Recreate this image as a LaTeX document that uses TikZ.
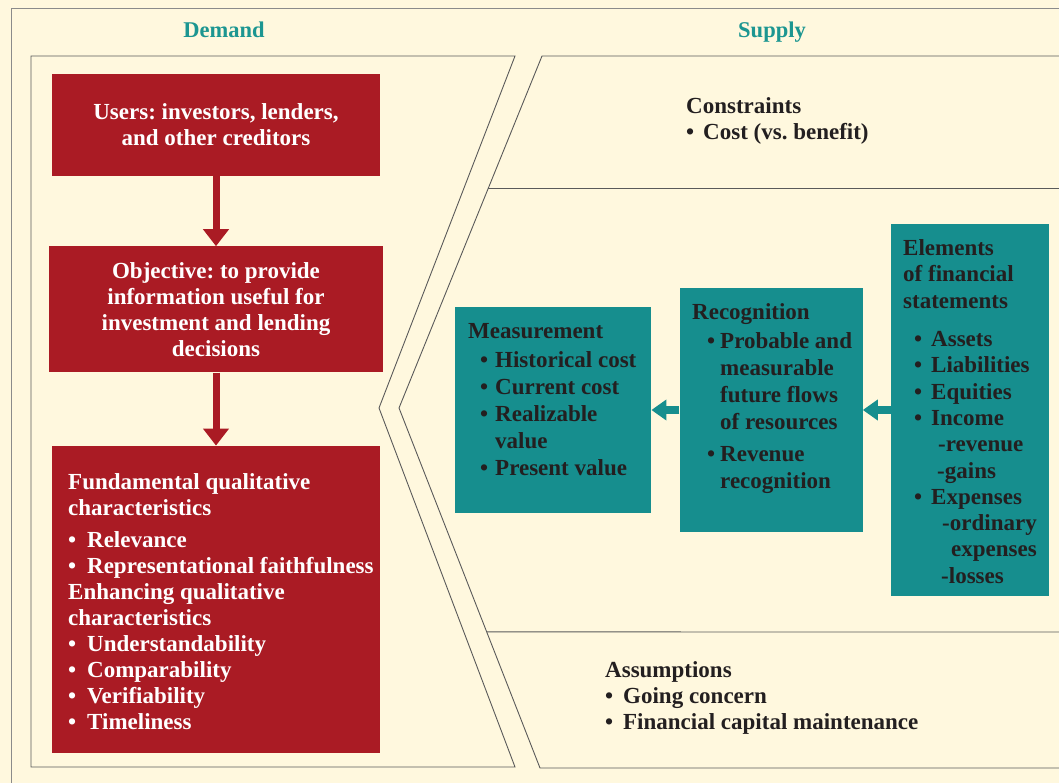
\documentclass[tikz,border=0pt]{standalone}
\usepackage{fontspec}
\setmainfont{Liberation Serif}
\usetikzlibrary{arrows.meta,positioning,calc}
\definecolor{demred}{RGB}{170,27,36}
\definecolor{supteal}{RGB}{22,142,142}
\definecolor{headteal}{RGB}{28,150,145}
\definecolor{paper}{RGB}{255,248,222}
\definecolor{ink}{RGB}{35,31,32}
\definecolor{framegray}{RGB}{90,90,90}
\frenchspacing
\newcommand{\bodyfont}{\fontsize{23}{26}\selectfont\bfseries}
\newcommand{\bul}[1][16pt]{\makebox[#1][l]{\textbullet}}
\tikzset{
  basic/.style    = {font=\bodyfont, inner sep=0pt, align=left},
  redbox/.style   = {basic, fill=demred, text=white, align=center},
  tealbox/.style  = {basic, fill=supteal},
  listtext/.style = {basic, anchor=north west, text=ink},
  panel/.style    = {draw=framegray, line width=0.9pt, fill=paper},
  heading/.style  = {font=\fontsize{22.5}{24}\selectfont\bfseries, text=headteal, anchor=base},
  redarrow/.style = {draw=demred, line width=7pt, -{Triangle[width=25pt,length=17pt]}},
  tealarrow/.style = {draw=supteal, line width=8pt, -{Triangle[width=20pt,length=15pt]}}
}

\begin{document}
\begin{tikzpicture}[x=1pt,y=-1pt]
\useasboundingbox[fill=paper] (0,0) rectangle (1059,783);
% outer frame
\draw[framegray!70, line width=0.8pt] (11,800) |- (1080,8);
% demand and supply panels
\draw[panel] (31,56) -- (515,56) -- (379,408) -- (515,767) -- (31,767) -- cycle;
\coordinate (stl) at (542,56);
\coordinate (stip) at (399,408);
\coordinate (sbl) at (540,768);
\draw[panel] (1080,56) -- (stl) -- (stip) -- (sbl) -- (1080,768);
\draw[framegray, line width=0.9pt] ($(stl)!0.375!(stip)$) -- (1080,188);
\draw[framegray, line width=0.9pt] ($(stip)!0.622!(sbl)$) -- (1080,632);
\node[heading] (demand) at (224,38) {Demand};
\node[heading] (supply) at (772,38) {Supply};

% demand side
\node[redbox, minimum width=328pt, minimum height=102pt] (users) at (216,125)
  {Users: investors, lenders,\\and other creditors};
\node[redbox, minimum width=334pt, minimum height=126pt, below=70pt of users] (objective)
  {Objective: to provide\\information useful for\\investment and lending\\decisions};
\node[redbox, minimum width=328pt, minimum height=307pt, below=73pt of objective] (fund) {};
\node[listtext, text=white] (fundtext) at (68,473.5)
  {Fundamental qualitative\\characteristics\\[6pt]
   \bul[19pt]Relevance\\\bul[19pt]Representational faithfulness\\
   Enhancing qualitative\\characteristics\\
   \bul[19pt]Understandability\\\bul[19pt]Comparability\\
   \bul[19pt]Verifiability\\\bul[19pt]Timeliness};
\draw[redarrow] (users) -- (objective);
\draw[redarrow] (objective) -- (fund);

% supply side
\node[listtext] (constr) at (686,97) {Constraints\\\bul[17pt]Cost (vs.\ benefit)};
\node[tealbox, minimum width=158pt, minimum height=372pt] (elem) at (970,410) {};
\node[tealbox, minimum width=183pt, minimum height=244pt, left=28pt of elem] (recog) {};
\node[tealbox, minimum width=196pt, minimum height=205pt, left=28pt of recog] (meas) {};
\node[listtext, font=\fontsize{23}{27}\selectfont\bfseries] (meastext) at (468,323.5)
  {Measurement\\[2pt]
   \hspace*{12pt}\bul[15pt]Historical cost\\\hspace*{12pt}\bul[15pt]Current cost\\
   \hspace*{12pt}\bul[15pt]Realizable\\\hspace*{27pt}value\\
   \hspace*{12pt}\bul[15pt]Present value};
\node[listtext, font=\fontsize{23}{27}\selectfont\bfseries] (recogtext) at (692,303.5)
  {Recognition\\[2pt]
   \hspace*{15pt}\bul[13pt]Probable and\\\hspace*{28pt}measurable\\
   \hspace*{28pt}future flows\\\hspace*{28pt}of resources\\[5pt]
   \hspace*{15pt}\bul[13pt]Revenue\\\hspace*{28pt}recognition};
\node[listtext, font=\fontsize{23}{26.3}\selectfont\bfseries] (elemtext) at (903,239.5)
  {Elements\\of financial\\statements\\[12pt]
   \hspace*{11pt}\bul[17pt]Assets\\\hspace*{11pt}\bul[17pt]Liabilities\\
   \hspace*{11pt}\bul[17pt]Equities\\\hspace*{11pt}\bul[17pt]Income\\
   \hspace*{35pt}-revenue\\\hspace*{34pt}-gains\\
   \hspace*{11pt}\bul[17pt]Expenses\\\hspace*{39pt}-ordinary\\
   \hspace*{48pt}expenses\\\hspace*{38pt}-losses};
\draw[tealarrow] (elem) -- (recog);
\draw[tealarrow] (recog) -- (meas);
\node[listtext] (assum) at (605,661.5)
  {Assumptions\\\bul[18pt]Going concern\\\bul[18pt]Financial capital maintenance};
\end{tikzpicture}
\end{document}
